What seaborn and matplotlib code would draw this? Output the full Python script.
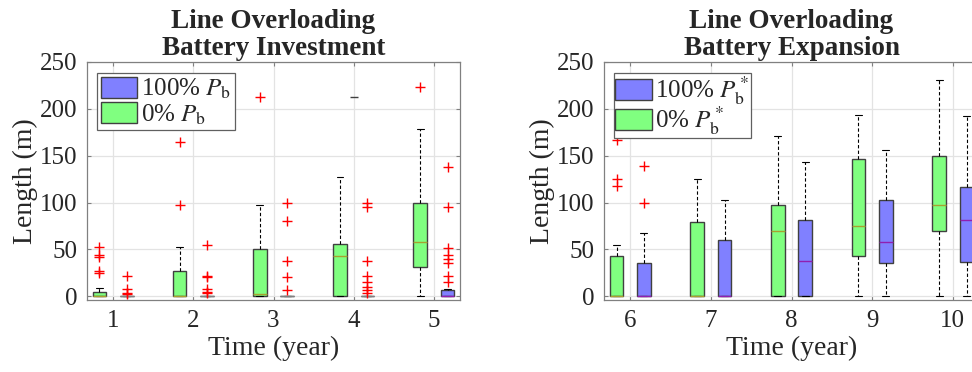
import numpy as np
import pandas as pd
import matplotlib
matplotlib.use("Agg")
import matplotlib.pyplot as plt
from matplotlib.patches import Patch
import seaborn as sns

# ---- data: five-number summaries (whisker low, Q1, median, Q3, whisker high) ----
years_a = [1, 2, 3, 4, 5]
years_b = [6, 7, 8, 9, 10]

green_a = [[0, 0, 0, 5, 9],
           [0, 0, 0, 27, 53],
           [0, 0, 2, 50, 97],
           [0, 0, 43, 56, 127],
           [0, 31, 58, 99, 178]]
blue_a = [[0, 0, 0, 0, 0],
          [0, 0, 0, 0, 0],
          [0, 0, 0, 0, 0],
          [0, 0, 0, 0, 0],
          [0, 0, 0, 7, 8]]
green_b = [[0, 0, 0, 43, 55],
           [0, 0, 0, 79, 125],
           [0, 0, 70, 97, 171],
           [0, 43, 75, 147, 193],
           [0, 70, 97, 150, 231]]
blue_b = [[0, 0, 0, 36, 67],
          [0, 0, 0, 60, 103],
          [0, 0, 38, 81, 143],
          [0, 36, 58, 103, 156],
          [0, 37, 81, 117, 192]]

# outliers per year
out_green_a = [[53, 44, 42, 27, 25], [165, 97], [213], [], [223]]
out_blue_a = [[22, 8, 4, 2], [55, 22, 21, 8, 5, 3], [100, 80, 38, 21, 7],
              [100, 95, 38, 22, 15, 10, 7, 3], [138, 95, 52, 44, 40, 35, 22, 15]]
out_green_b = [[167, 125, 118], [], [], [], []]
out_blue_b = [[139, 99], [], [], [], []]
extra_cap_year = [4]
extra_cap_value = [213]

groups = ["0%", "100%"]
legend_a = [r"100% $P_\mathrm{b}$", r"0% $P_\mathrm{b}$"]
legend_b = [r"100% $P^*_\mathrm{b}$", r"0% $P^*_\mathrm{b}$"]

GREEN = "#80ff80"
BLUE = "#8080ff"
EDGE = "#404040"
MED_G = "#a8a030"
MED_B = "#9020b0"

sns.set_theme(style="whitegrid")
plt.rcParams["font.family"] = ["Liberation Serif", "DejaVu Serif"]
plt.rcParams["mathtext.fontset"] = "stix"

def long_df(years, green, blue):
    rows = []
    for y, g, b in zip(years, green, blue):
        for v in g:
            rows.append((y, "0%", v))
        for v in b:
            rows.append((y, "100%", v))
    return pd.DataFrame(rows, columns=["year", "group", "value"])

def out_df(years, og, ob, off):
    rows = []
    for y, g, b in zip(years, og, ob):
        for v in g:
            rows.append((y - off, v))
        for v in b:
            rows.append((y + off, v))
    return pd.DataFrame(rows, columns=["x", "value"])

fig = plt.figure(figsize=(9.72, 3.72), dpi=100)
W, H = 972, 372
ax1 = fig.add_axes([87 / W, (H - 300) / H, (460 - 87) / W, (300 - 62) / H])
ax2 = fig.add_axes([604 / W, (H - 300) / H, (979 - 604) / W, (300 - 62) / H])

OFF = 0.17

def draw(ax, years, green, blue, og, ob, labels, title, lspace, bpad):
    df = long_df(years, green, blue)
    sns.boxplot(data=df, x="year", y="value", hue="group", hue_order=groups,
                palette={"0%": GREEN, "100%": BLUE}, saturation=1,
                native_scale=True, width=0.68, gap=0.5, whis=np.inf,
                linecolor=EDGE, linewidth=1.0, legend=False, ax=ax,
                whiskerprops={"linestyle": (0, (3, 2)), "color": "black", "linewidth": 0.8},
                capprops={"color": "black", "linewidth": 0.8},
                showfliers=False)
    # median colours (grey for flat boxes)
    for l in ax.lines:
        xd = l.get_xdata()
        yd = l.get_ydata()
        if len(xd) != 2 or l.get_linestyle() != "-":
            continue
        if abs(yd[0] - yd[1]) < 1e-9 and abs(xd[1] - xd[0]) > 0.15:
            cx = (xd[0] + xd[1]) / 2
            yr = int(round(cx))
            i = years.index(yr)
            if cx < yr:
                stats, col = green[i], MED_G
            else:
                stats, col = blue[i], MED_B
            if stats[3] - stats[1] > 0:
                l.set_color(col)
            else:
                l.set_color("#808080")
            l.set_linewidth(1.0)
    odf = out_df(years, og, ob, OFF)
    if len(odf):
        sns.scatterplot(data=odf, x="x", y="value", marker="+", color="red",
                        s=55, linewidth=1.0, ax=ax, legend=False, zorder=5)
    ax.set_xlim(years[0] - 0.325, years[-1] + 0.325)
    ax.set_ylim(-4, 250)
    ax.set_xticks(years)
    ax.set_xticklabels([str(y) for y in years])
    ax.set_yticks([0, 50, 100, 150, 200, 250])
    ax.set_xlabel("Time (year)", fontsize=20, color="#262626", labelpad=3)
    ax.set_ylabel("Length (m)", fontsize=20, color="#262626", labelpad=1)
    ax.set_title(title, fontsize=19.5, fontweight="bold", pad=5, linespacing=1.12)
    ax.tick_params(axis="both", labelsize=18, colors="#808080", labelcolor="#262626",
                   direction="in", length=3, width=0.8, top=True, right=True,
                   bottom=True, left=True, pad=7)
    ax.grid(True, color="#e3e3e3", linewidth=0.9)
    for s in ax.spines.values():
        s.set_color("#808080")
        s.set_linewidth(0.9)
    handles = [Patch(facecolor=BLUE, edgecolor=EDGE, linewidth=1.0),
               Patch(facecolor=GREEN, edgecolor=EDGE, linewidth=1.0)]
    leg = ax.legend(handles, labels, loc="upper left",
                    bbox_to_anchor=(10 / 373, 1 - 11 / 238), borderaxespad=0,
                    fontsize=18, handlelength=1.45, handleheight=0.9,
                    handletextpad=0.15, labelspacing=lspace, borderpad=bpad,
                    fancybox=False, framealpha=1, edgecolor="#606060")
    leg.get_frame().set_linewidth(0.9)

draw(ax1, years_a, green_a, blue_a, out_green_a, out_blue_a, legend_a,
     "Line Overloading\nBattery Investment", 0.05, 0.15)
draw(ax2, years_b, green_b, blue_b, out_green_b, out_blue_b, legend_b,
     "Line Overloading\nBattery Expansion", -0.1, 0.05)

ax1.scatter(extra_cap_year, extra_cap_value, marker="_", color="#404040", s=40,
            linewidths=1.0, zorder=5)

fig.savefig("out.png", dpi=100)
